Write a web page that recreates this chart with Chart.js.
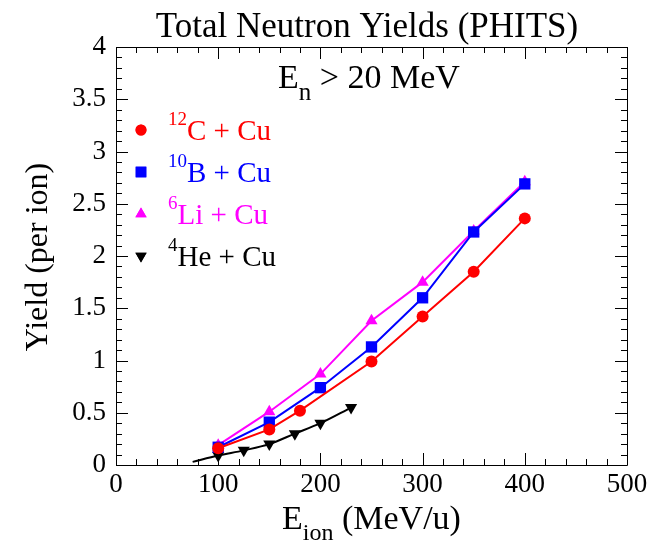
<!DOCTYPE html>
<html>
<head>
<meta charset="utf-8">
<script src="https://cdn.jsdelivr.net/npm/chart.js@4.4.0/dist/chart.umd.min.js"></script>
<style>
  html, body { margin: 0; padding: 0; background: #ffffff; }
  #wrap { width: 664px; height: 540px; }
</style>
</head>
<body>
<div id="wrap"><canvas id="c" width="664" height="540"></canvas></div>
<script>
// ---- data ----
const titleText = "Total Neutron Yields (PHITS)";
const xTitleMain = "E", xTitleSub = "ion", xTitleRest = " (MeV/u)";
const yTitleText = "Yield (per ion)";
const noteMain = "E", noteSub = "n", noteRest = " > 20 MeV";

const c12X = [100, 150, 180, 250, 300, 350, 400];
const c12Y = [0.16, 0.34, 0.52, 0.99, 1.42, 1.85, 2.36];

const b10X = [100, 150, 200, 250, 300, 350, 400];
const b10Y = [0.17, 0.41, 0.74, 1.13, 1.60, 2.23, 2.69];

const li6X = [100, 150, 200, 250, 300, 350, 400];
const li6Y = [0.19, 0.51, 0.87, 1.38, 1.75, 2.24, 2.71];

// first point (75) is the start of the drawn curve, no marker there
const he4X = [75, 100, 125, 150, 175, 200, 230];
const he4Y = [0.03, 0.09, 0.14, 0.20, 0.30, 0.40, 0.55];
const he4Marker = [false, true, true, true, true, true, true];

const legendSup = ["12", "10", "6", "4"];
const legendMain = ["C + Cu", "B + Cu", "Li + Cu", "He + Cu"];

const xMin = 0, xMax = 500, xMajor = 100, xMinor = 20;
const yMin = 0, yMax = 4, yMajor = 0.5, yMinor = 0.1;

// ---- helpers ----
const SERIF = '"Liberation Serif", "DejaVu Serif", "Times New Roman", serif';
function pts(xs, ys) { return xs.map((x, i) => ({ x: x, y: ys[i] })); }

const colors = ['#ff0000', '#0000ff', '#ff00ff', '#000000'];
const styles = [
  { pointStyle: 'circle', radius: 6, rotation: 0 },
  { pointStyle: 'rect', radius: 8, rotation: 0 },
  { pointStyle: 'triangle', radius: 7, rotation: 0 },
  { pointStyle: 'triangle', radius: 7, rotation: 180 }
];
const legendStyles = [
  { pointStyle: 'circle', radius: 5.5, rotation: 0 },
  { pointStyle: 'rect', radius: 7.5, rotation: 0 },
  { pointStyle: 'triangle', radius: 6.5, rotation: 0 },
  { pointStyle: 'triangle', radius: 6.5, rotation: 180 }
];

function mkSet(label, data, i, extra) {
  return Object.assign({
    label: label,
    data: data,
    showLine: true,
    borderColor: colors[i],
    backgroundColor: colors[i],
    pointBackgroundColor: colors[i],
    pointBorderColor: colors[i],
    borderWidth: 2,
    pointBorderWidth: 0,
    pointStyle: styles[i].pointStyle,
    pointRadius: styles[i].radius,
    pointRotation: styles[i].rotation,
    tension: 0
  }, extra || {});
}

const frameTicks = {
  id: 'frameTicks',
  beforeDatasetsDraw(chart) {
    const ctx = chart.ctx, a = chart.chartArea;
    const xs = chart.scales.x, ys = chart.scales.y;
    ctx.save();
    ctx.strokeStyle = '#000';
    ctx.lineWidth = 1;
    ctx.beginPath();
    ctx.rect(Math.round(a.left) + 0.5, Math.round(a.top) + 0.5,
             Math.round(a.right - a.left), Math.round(a.bottom - a.top));
    ctx.stroke();
    ctx.beginPath();
    for (let v = xMin; v <= xMax + 1e-9; v += xMinor) {
      const major = Math.abs(v / xMajor - Math.round(v / xMajor)) < 1e-6;
      const L = major ? 12 : 6;
      const px = Math.round(xs.getPixelForValue(v)) + 0.5;
      ctx.moveTo(px, a.bottom); ctx.lineTo(px, a.bottom - L);
      ctx.moveTo(px, a.top); ctx.lineTo(px, a.top + L);
    }
    for (let k = 0; k <= Math.round((yMax - yMin) / yMinor); k++) {
      const v = yMin + k * yMinor;
      const major = Math.abs(v / yMajor - Math.round(v / yMajor)) < 1e-6;
      const L = major ? 12 : 6;
      const py = Math.round(ys.getPixelForValue(v)) + 0.5;
      ctx.moveTo(a.left, py); ctx.lineTo(a.left + L, py);
      ctx.moveTo(a.right, py); ctx.lineTo(a.right - L, py);
    }
    ctx.stroke();
    ctx.restore();
  },
  afterDraw(chart) {
    const ctx = chart.ctx;
    ctx.save();
    ctx.fillStyle = '#000';
    ctx.textBaseline = 'alphabetic';
    ctx.textAlign = 'left';

    // main title
    ctx.font = '35px ' + SERIF;
    ctx.textAlign = 'center';
    ctx.fillText(titleText, 367, 37);
    ctx.textAlign = 'left';

    // x axis title with subscript
    let x = 282;
    ctx.font = '34px ' + SERIF;
    ctx.fillText(xTitleMain, x, 529);
    x += ctx.measureText(xTitleMain).width;
    ctx.font = '24px ' + SERIF;
    ctx.fillText(xTitleSub, x, 540);
    x += ctx.measureText(xTitleSub).width;
    ctx.font = '34px ' + SERIF;
    ctx.fillText(xTitleRest, x, 529);

    // y axis title
    ctx.save();
    ctx.translate(47, 257);
    ctx.rotate(-Math.PI / 2);
    ctx.font = '32px ' + SERIF;
    ctx.textAlign = 'center';
    ctx.fillText(yTitleText, 0, 0);
    ctx.restore();

    // E_n > 20 MeV note
    x = 278;
    ctx.font = '34px ' + SERIF;
    ctx.fillText(noteMain, x, 88);
    x += ctx.measureText(noteMain).width;
    ctx.font = '25px ' + SERIF;
    ctx.fillText(noteSub, x, 100);
    x += ctx.measureText(noteSub).width;
    ctx.font = '34px ' + SERIF;
    ctx.fillText(noteRest, x, 88);

    // legend
    for (let i = 0; i < legendMain.length; i++) {
      const cy = 130 + i * 42;
      const st = legendStyles[i];
      ctx.fillStyle = colors[i];
      ctx.strokeStyle = colors[i];
      ctx.lineWidth = 0;
      Chart.helpers.drawPoint(ctx, { pointStyle: st.pointStyle, radius: st.radius, rotation: st.rotation, borderWidth: 0 }, 141, cy);
      ctx.fill();
      let tx = 168;
      ctx.font = '19px ' + SERIF;
      ctx.fillText(legendSup[i], tx, cy - 5);
      tx += ctx.measureText(legendSup[i]).width;
      ctx.font = '29px ' + SERIF;
      ctx.fillText(legendMain[i], tx, cy + 10);
    }
    ctx.restore();
  }
};

new Chart(document.getElementById('c'), {
  type: 'scatter',
  data: {
    datasets: [
      mkSet('12C + Cu', pts(c12X, c12Y), 0),
      mkSet('10B + Cu', pts(b10X, b10Y), 1),
      mkSet('6Li + Cu', pts(li6X, li6Y), 2),
      mkSet('4He + Cu', pts(he4X, he4Y), 3, {
        pointRadius: he4Marker.map(m => m ? styles[3].radius : 0),
        cubicInterpolationMode: 'monotone'
      })
    ]
  },
  options: {
    responsive: false,
    devicePixelRatio: 1,
    animation: false,
    layout: { padding: { top: 47, right: 37, bottom: 0, left: 0 } },
    plugins: {
      legend: { display: false },
      title: { display: false },
      tooltip: { enabled: false }
    },
    scales: {
      x: {
        type: 'linear', min: xMin, max: xMax,
        grid: { display: false, drawTicks: false },
        border: { display: false },
        ticks: { stepSize: xMajor, color: '#000', padding: 4, maxRotation: 0,
                 font: { family: SERIF, size: 27 } },
        afterFit(s) { s.height = 75; }
      },
      y: {
        type: 'linear', min: yMin, max: yMax,
        grid: { display: false, drawTicks: false },
        border: { display: false },
        ticks: { stepSize: yMajor, color: '#000', padding: 10,
                 font: { family: SERIF, size: 27 },
                 callback: v => String(Math.round(v * 10) / 10) },
        afterFit(s) { s.width = 116; }
      }
    }
  },
  plugins: [frameTicks]
});
</script>
</body>
</html>
